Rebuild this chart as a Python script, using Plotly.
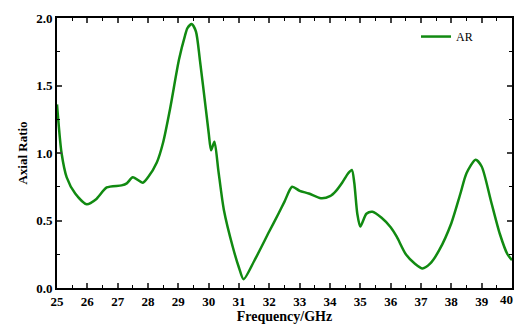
import plotly.graph_objects as go

freq = [25.0, 25.15, 25.32, 25.6, 25.98, 26.3, 26.64, 27.13, 27.3, 27.5, 27.83, 28.0, 28.29, 28.5,
        28.73, 29.02, 29.22, 29.3, 29.44, 29.58, 29.71, 29.91, 30.0, 30.08, 30.19, 30.32,
        30.5, 30.8, 31.0, 31.15, 31.5, 32.0, 32.3, 32.5, 32.75, 33.0, 33.3, 33.7, 34.0, 34.2, 34.4,
        34.6, 34.72, 34.8, 34.9, 35.0, 35.2, 35.4, 35.7, 36.0, 36.2, 36.5, 36.8, 37.05, 37.3, 37.6,
        38.0, 38.3, 38.5, 38.8, 39.0, 39.3, 39.6, 39.85, 40.0]
ar = [1.36, 1.00, 0.82, 0.70, 0.62, 0.66, 0.745, 0.76, 0.775, 0.82, 0.78, 0.82, 0.93, 1.08,
      1.33, 1.69, 1.87, 1.925, 1.955, 1.90, 1.69, 1.32, 1.15, 1.02, 1.084, 0.87,
      0.58, 0.30, 0.15, 0.065, 0.20, 0.42, 0.55, 0.64, 0.75, 0.72, 0.70, 0.665, 0.68, 0.72, 0.78,
      0.85, 0.875, 0.78, 0.55, 0.455, 0.55, 0.565, 0.52, 0.45, 0.38, 0.25, 0.18, 0.145, 0.18, 0.28,
      0.48, 0.70, 0.85, 0.95, 0.90, 0.65, 0.40, 0.25, 0.207]

x_ticks = list(range(25, 41))
x_ticklabels = ["<b>%d</b>" % v for v in x_ticks]
y_ticks = [0.0, 0.5, 1.0, 1.5, 2.0]
y_ticklabels = ["<b>0.0</b>", "<b>0.5</b>", "<b>1.0</b>", "<b>1.5</b>", "<b>2.0</b>"]

fig = go.Figure()
fig.add_trace(go.Scatter(x=freq, y=ar, mode="lines", name="AR",
                         line=dict(color="#118a11", width=2.5, shape="spline", smoothing=0.7)))

font_fam = "Liberation Serif"
# last tick label, kept inside the page
fig.add_annotation(x=x_ticks[-1], y=0, xref="x", yref="paper", yanchor="top", xanchor="right",
                   yshift=-2, xshift=3, text=x_ticklabels[-1], showarrow=False,
                   font=dict(size=13, family=font_fam, color="black"))
fig.update_layout(
    width=515, height=327,
    margin=dict(l=57, r=3, t=18, b=39, autoexpand=False),
    paper_bgcolor="white", plot_bgcolor="white",
    font=dict(family=font_fam, color="black"),
    showlegend=True,
    legend=dict(x=0.789, y=0.985, xanchor="left", yanchor="top", bgcolor="rgba(0,0,0,0)",
                font=dict(size=12, family=font_fam)),
    xaxis=dict(range=[25, 40], tickvals=x_ticks, ticktext=x_ticklabels, ticks="inside",
               ticklen=5, tickwidth=1.5,
               showline=True, linecolor="black", linewidth=2, mirror="allticks",
               showgrid=False, zeroline=False, automargin=False,
               tickfont=dict(size=13, family=font_fam),
               minor=dict(dtick=0.5, ticks="inside", ticklen=3, tickwidth=1, tickcolor="black"),
               title=dict(text="<b>Frequency/GHz</b>", font=dict(size=14, family=font_fam), standoff=2)),
    yaxis=dict(range=[0, 2], tickvals=y_ticks, ticktext=y_ticklabels, ticks="inside", ticklen=5,
               tickwidth=1.5, showline=True, linecolor="black", linewidth=2, mirror="allticks",
               showgrid=False, zeroline=False, automargin=False,
               tickfont=dict(size=13, family=font_fam),
               minor=dict(dtick=0.25, ticks="inside", ticklen=3, tickwidth=1, tickcolor="black"),
               title=dict(text="<b>Axial Ratio</b>", font=dict(size=13, family=font_fam), standoff=6)),
)

fig.write_html("out.html", config={"displayModeBar": False},
               post_script="document.body.style.margin='0';")
